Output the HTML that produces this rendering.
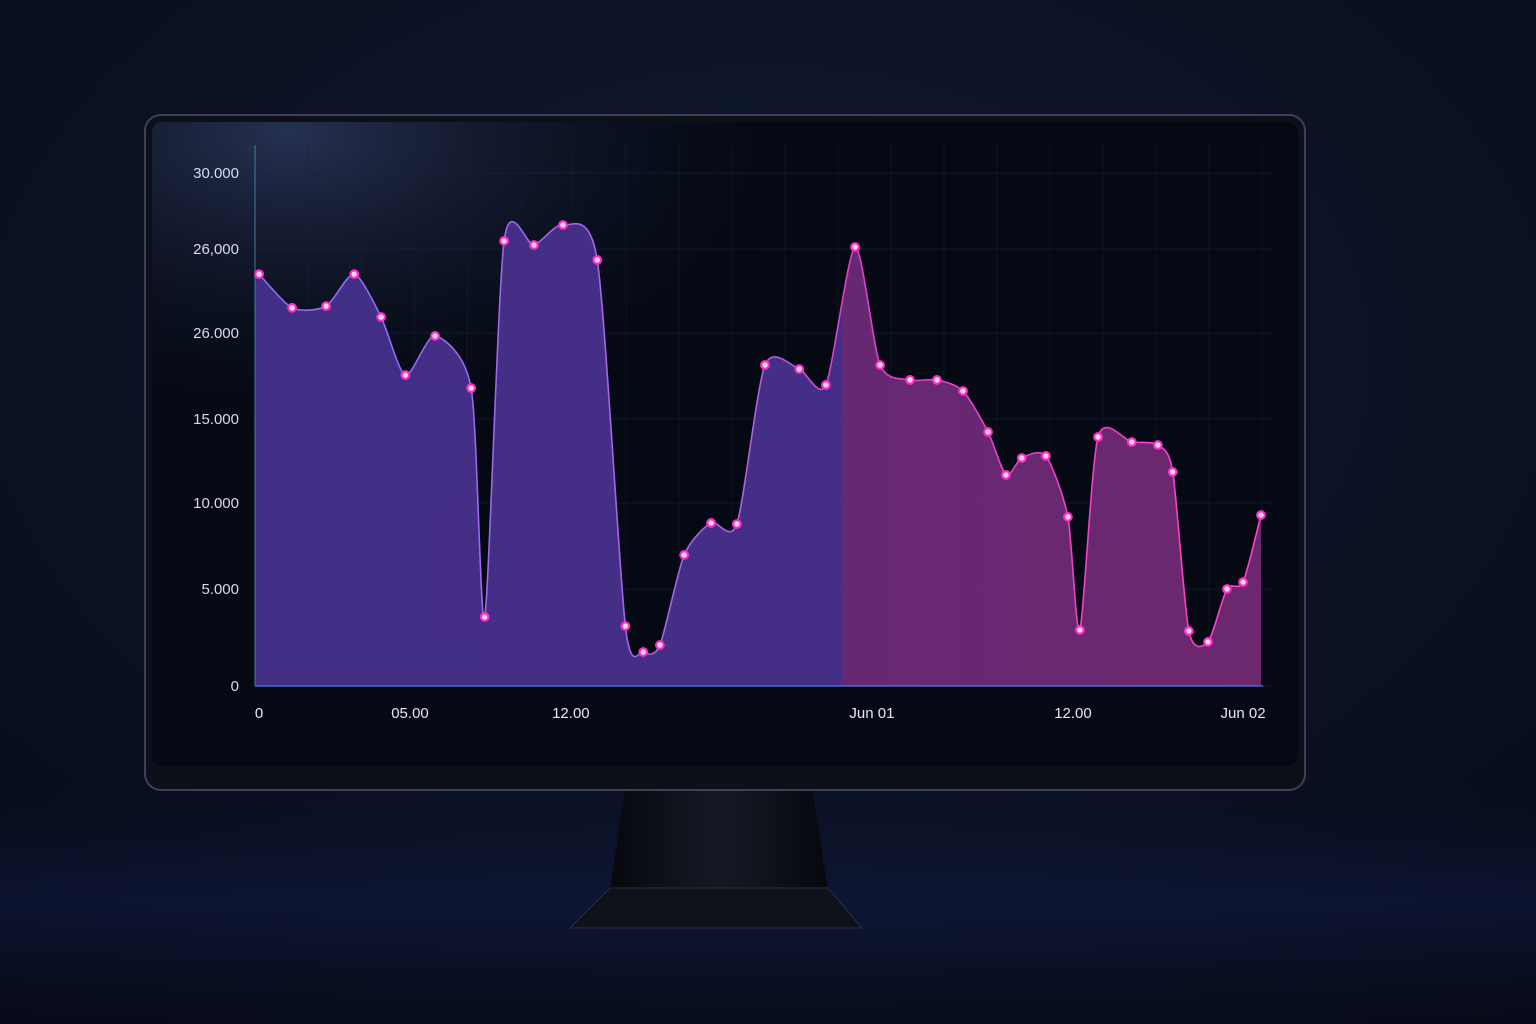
<!DOCTYPE html>
<html><head><meta charset="utf-8">
<style>
html,body{margin:0;padding:0;width:1536px;height:1024px;overflow:hidden;background:#0a0f20;font-family:"Liberation Sans",sans-serif;}
</style></head>
<body>
<svg width="1536" height="1024" viewBox="0 0 1536 1024">
<defs>
<radialGradient id="bg" cx="0.5" cy="0.35" r="0.8">
<stop offset="0" stop-color="#111a32"/><stop offset="1" stop-color="#070b18"/></radialGradient>
<linearGradient id="floor" x1="0" y1="0" x2="0" y2="1">
<stop offset="0" stop-color="#0b1230" stop-opacity="0"/><stop offset="0.5" stop-color="#15205a" stop-opacity="0.35"/><stop offset="1" stop-color="#080c1c" stop-opacity="0.2"/></linearGradient>
<radialGradient id="screenGlow" cx="0.12" cy="0.02" r="0.5">
<stop offset="0" stop-color="#2a3558" stop-opacity="0.9"/><stop offset="1" stop-color="#050914" stop-opacity="0"/></radialGradient>
<linearGradient id="fillGrad" gradientUnits="userSpaceOnUse" x1="255" y1="0" x2="1263" y2="0">
<stop offset="0" stop-color="#46308c"/><stop offset="0.58" stop-color="#48308c"/><stop offset="0.585" stop-color="#6c2a78"/><stop offset="1" stop-color="#722a72"/></linearGradient>
<linearGradient id="lineGrad" gradientUnits="userSpaceOnUse" x1="255" y1="0" x2="1263" y2="0">
<stop offset="0" stop-color="#8a70f0"/><stop offset="0.5" stop-color="#b060e0"/><stop offset="0.585" stop-color="#e040c8"/><stop offset="1" stop-color="#ff40c8"/></linearGradient>
<linearGradient id="stand" x1="0" y1="0" x2="1" y2="0">
<stop offset="0" stop-color="#07080e"/><stop offset="0.5" stop-color="#161925"/><stop offset="1" stop-color="#07080e"/></linearGradient>
</defs>
<rect width="1536" height="1024" fill="url(#bg)"/>
<rect y="780" width="1536" height="244" fill="url(#floor)"/>
<polygon points="625,788 812,788 828,890 610,890" fill="url(#stand)"/>
<polygon points="610,888 828,888 862,928 570,928" fill="#10121a" stroke="#2a2e40" stroke-width="1"/>
<rect x="145" y="115" width="1160" height="675" rx="16" fill="#0e1019" stroke="#3c4158" stroke-width="2"/>
<rect x="152" y="122" width="1146" height="644" rx="10" fill="#050914"/>
<rect x="152" y="122" width="1146" height="644" rx="10" fill="url(#screenGlow)"/>
<g id="chart"></g>
</svg>
<script>
const yTickValues=[0,5000,10000,15000,20000,25000,30000];
const yTickLabels=["0","5.000","10.000","15.000","26.000","26,000","30.000"];
const xTickValues=[0,5.98,12.27,24.04,31.9,38.55];
const xTickLabels=["0","05.00","12.00","Jun 01","12.00","Jun 02"];
const times=[0.08,1.37,2.7,3.8,4.85,5.8,6.96,8.37,8.9,9.66,10.83,11.96,13.3,14.4,15.1,15.75,16.7,17.75,18.76,19.86,21.2,22.24,23.38,24.36,25.53,26.58,27.6,28.58,29.28,29.9,30.84,31.7,32.17,32.88,34.2,35.22,35.8,36.43,37.18,37.92,38.55,39.25];
const values=[23500,21500,21600,23500,20950,17550,19830,16800,3560,25530,25260,26580,24350,3090,1750,2110,6980,8840,8780,18140,17900,16980,25130,18140,17270,17270,16630,14230,11670,12680,12800,9190,2890,13930,13630,13450,11850,2840,2270,5000,5400,9300];

const NS="http://www.w3.org/2000/svg";
const g=document.getElementById('chart');
const X0=255,X1=1263,T0=-0.08,T1=39.33;
const yPix=[686,589,503,419,333,249,173];
function xs(t){return X0+(t-T0)/(T1-T0)*(X1-X0);}
function ys(v){for(let i=0;i<yTickValues.length-1;i++){if(v<=yTickValues[i+1]){const f=(v-yTickValues[i])/(yTickValues[i+1]-yTickValues[i]);return yPix[i]+f*(yPix[i+1]-yPix[i]);}}return yPix[yPix.length-1];}
function mk(tag,attrs){const e=document.createElementNS(NS,tag);for(const k in attrs)e.setAttribute(k,attrs[k]);g.appendChild(e);return e;}
for(let x=X0+53;x<X1+10;x+=53){const l=mk('line',{x1:x,y1:145,x2:x,y2:686,stroke:'#18223c','stroke-width':1,'stroke-opacity':0.45});

}
yTickValues.forEach((v,i)=>{const y=ys(v);
const l=mk('line',{x1:X0,y1:y,x2:1272,y2:y,stroke:'#1a2646','stroke-width':1,'stroke-opacity':0.55});


const t=mk('text',{x:239,y:y+5,'text-anchor':'end',fill:'#d8dcea','font-size':15});
t.textContent=yTickLabels[i];

});
xTickValues.forEach((v,i)=>{const t=mk('text',{x:xs(v)+(i==0?2:0),y:718,'text-anchor':'middle',fill:'#e4e8f4','font-size':15});
t.textContent=xTickLabels[i];

});
const pts=times.map((t,i)=>[xs(t),ys(values[i])]);
function curve(p){let d='M'+p[0][0]+','+p[0][1];for(let i=0;i<p.length-1;i++){const p0=p[i-1]||p[i],p1=p[i],p2=p[i+1],p3=p[i+2]||p2;const k=8;
d+=' C'+(p1[0]+(p2[0]-p0[0])/k)+','+(p1[1]+(p2[1]-p0[1])/k)+' '+(p2[0]-(p3[0]-p1[0])/k)+','+(p2[1]-(p3[1]-p1[1])/k)+' '+p2[0]+','+p2[1];}return d;}
const lineD=curve(pts);
const area=mk('path',{d:'M'+X0+',686 L'+X0+','+pts[0][1]+' L'+pts[0][0]+','+pts[0][1]+lineD.replace(/^M[^ ]+/,'')+' L'+pts[pts.length-1][0]+',686 Z',fill:'url(#fillGrad)','fill-opacity':0.95});


const line=mk('path',{d:lineD,fill:'none',stroke:'url(#lineGrad)','stroke-width':1.6});


const ax=mk('line',{x1:X0,y1:145,x2:X0,y2:686,stroke:'#3a7fa0','stroke-width':1});


const bx=mk('line',{x1:X0,y1:686,x2:X1,y2:686,stroke:'#4a68e0','stroke-width':1.5});


pts.forEach(p=>{const c=mk('circle',{cx:p[0],cy:p[1],r:3.8,fill:'#ffd8f4',stroke:'#ff2cc8','stroke-width':2.2});

});
</script>
</body></html>
